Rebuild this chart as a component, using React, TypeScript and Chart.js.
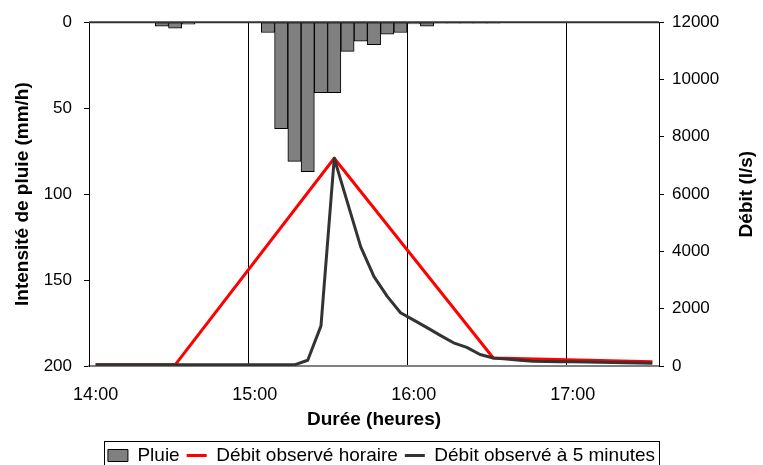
import React, { useEffect, useRef } from 'react';
import { Chart, registerables } from 'chart.js';

Chart.register(...registerables);

const timeLabels = [
  '14:00', '14:05', '14:10', '14:15', '14:20', '14:25', '14:30', '14:35', '14:40', '14:45', '14:50', '14:55',
  '15:00', '15:05', '15:10', '15:15', '15:20', '15:25', '15:30', '15:35', '15:40', '15:45', '15:50', '15:55',
  '16:00', '16:05', '16:10', '16:15', '16:20', '16:25', '16:30', '16:35', '16:40', '16:45', '16:50', '16:55',
  '17:00', '17:05', '17:10', '17:15', '17:20', '17:25', '17:30',
];

// Intensité de pluie (mm/h), 5-minute steps
const rainIntensity = [
  null, null, null, null, null, 2.3, 3.5, 1.2, null, null, null, null,
  null, 6, 62, 81, 87, 41, 41, 17, 11, 13, 7, 6,
  1, 2.3, 0.5, 0.5, 0.5, 0.5, 0.5, null, null, null, null, null,
  null, null, null, null, null, null, null,
];

// Débit observé horaire (l/s)
const flowHourly = [
  40, null, null, null, null, null, 40, null, null, null, null, null,
  null, null, null, null, null, null, 7250, null, null, null, null, null,
  null, null, null, null, null, null, 280, null, null, null, null, null,
  null, null, null, null, null, null, 150,
];

// Débit observé à 5 minutes (l/s)
const flow5min = [
  40, 40, 40, 40, 40, 40, 40, 40, 40, 40, 40, 40,
  40, 40, 40, 40, 200, 1400, 7250, 5700, 4160, 3120, 2430, 1860,
  1600, 1340, 1070, 810, 650, 400, 280, 240, 200, 170, 160, 152,
  145, 137, 130, 122, 115, 108, 100,
];

const rainTicksStep = 50;
const flowTicksStep = 2000;

const FONT = "'Liberation Sans', Arial, sans-serif";

const framePlugin = {
  id: 'frameAndExtras',
  afterDatasetsDraw(chart: any) {
    const { ctx, chartArea } = chart;
    ctx.save();
    ctx.strokeStyle = '#333333';
    ctx.lineWidth = 2;
    ctx.beginPath();
    ctx.moveTo(chartArea.left, chartArea.top);
    ctx.lineTo(chartArea.right, chartArea.top);
    ctx.stroke();
    ctx.restore();
  },
  afterDraw(chart: any) {
    const { ctx, chartArea } = chart;
    // right axis title, reading bottom to top
    ctx.save();
    ctx.fillStyle = '#000';
    ctx.font = `bold 19px ${FONT}`;
    ctx.textAlign = 'center';
    ctx.textBaseline = 'middle';
    ctx.translate(747, (chartArea.top + chartArea.bottom) / 2);
    ctx.rotate(-Math.PI / 2);
    ctx.fillText('Débit (l/s)', 0, 0);
    ctx.restore();
    // legend border
    const lg = chart.legend;
    const boxes = lg && lg.legendHitBoxes;
    if (boxes && boxes.length) {
      const first = boxes[0];
      const last = boxes[boxes.length - 1];
      const l = Math.round(first.left - 4) + 0.5;
      const r = Math.round(last.left + last.width + 4) + 0.5;
      const t = Math.round(first.top - 5) + 0.5;
      ctx.save();
      ctx.strokeStyle = '#000';
      ctx.lineWidth = 1;
      ctx.strokeRect(l, t, r - l, 40);
      ctx.restore();
    }
  },
};

export default function App() {
  const ref = useRef<HTMLCanvasElement | null>(null);

  useEffect(() => {
    document.body.style.margin = '0';
    const canvas = ref.current;
    if (!canvas) return;
    const chart = new Chart(canvas, {
      type: 'bar',
      data: {
        labels: timeLabels,
        datasets: [
          {
            type: 'bar',
            label: 'Pluie',
            data: rainIntensity,
            backgroundColor: '#808080',
            borderColor: '#000000',
            borderWidth: 1,
            borderSkipped: false,
            categoryPercentage: 1,
            barPercentage: 1,
            yAxisID: 'y',
            order: 3,
            pointStyle: 'rect',
          } as any,
          {
            type: 'line',
            label: 'Débit observé horaire',
            data: flowHourly,
            borderColor: '#ff0000',
            backgroundColor: '#ff0000',
            borderWidth: 3,
            borderJoinStyle: 'round',
            pointRadius: 0,
            spanGaps: true,
            tension: 0,
            yAxisID: 'y2',
            order: 2,
            pointStyle: 'line',
          } as any,
          {
            type: 'line',
            label: 'Débit observé à 5 minutes',
            data: flow5min,
            borderColor: '#333333',
            backgroundColor: '#333333',
            borderWidth: 3,
            borderJoinStyle: 'round',
            pointRadius: 0,
            tension: 0,
            yAxisID: 'y2',
            order: 1,
            pointStyle: 'line',
          } as any,
        ],
      },
      options: {
        animation: false,
        responsive: false,
        layout: { padding: { top: 20, left: 0, right: 0, bottom: -10 } },
        plugins: {
          tooltip: { enabled: false },
          legend: {
            position: 'bottom',
            labels: {
              usePointStyle: true,
              pointStyleWidth: 20,
              boxHeight: 12,
              padding: 7,
              color: '#000',
              font: { family: FONT, size: 19 },
              sort: (a: any, b: any) => a.datasetIndex - b.datasetIndex,
            },
          },
        },
        scales: {
          x: {
            type: 'category',
            offset: true,
            grid: {
              offset: true,
              drawTicks: false,
              lineWidth: 1,
              color: (ctx: any) => (ctx.index > 0 && ctx.index % 12 === 0 ? '#000000' : 'rgba(0,0,0,0)'),
            },
            border: { color: '#808080', width: 2 },
            ticks: {
              autoSkip: false,
              maxRotation: 0,
              minRotation: 0,
              padding: 18,
              color: '#000',
              font: { family: FONT, size: 18 },
              callback: (_v: any, i: number) => (i % 12 === 0 ? timeLabels[i] : ''),
            },
            title: {
              display: true,
              text: 'Durée (heures)',
              color: '#000',
              font: { family: FONT, size: 19, weight: 'bold' },
              padding: { top: 0, bottom: 8 },
            },
            afterFit: (s: any) => {
              s.height = 73;
            },
          },
          y: {
            position: 'left',
            reverse: true,
            min: 0,
            max: 200,
            ticks: {
              stepSize: rainTicksStep,
              padding: 12,
              color: '#000',
              font: { family: FONT, size: 17 },
            },
            grid: { drawOnChartArea: false, drawTicks: true, tickLength: 5, color: '#000' },
            border: { color: '#000', width: 1 },
            title: {
              display: true,
              text: 'Intensité de pluie (mm/h)',
              color: '#000',
              font: { family: FONT, size: 19, weight: 'bold' },
              padding: { top: 11, bottom: 0 },
            },
            afterFit: (s: any) => {
              s.width = 89;
            },
          },
          y2: {
            position: 'right',
            min: 0,
            max: 12000,
            ticks: {
              stepSize: flowTicksStep,
              padding: 8,
              color: '#000',
              font: { family: FONT, size: 17 },
              callback: (v: any) => String(v),
            },
            grid: { drawOnChartArea: false, drawTicks: true, tickLength: 5, color: '#000' },
            border: { color: '#000', width: 1 },
            afterFit: (s: any) => {
              s.width = 104;
            },
          },
        },
      } as any,
      plugins: [framePlugin],
    });
    return () => chart.destroy();
  }, []);

  return (
    <div style={{ position: 'absolute', left: 0, top: 0, width: 763, height: 465, background: '#fff' }}>
      <canvas ref={ref} width={763} height={465} style={{ display: 'block' }} />
    </div>
  );
}
